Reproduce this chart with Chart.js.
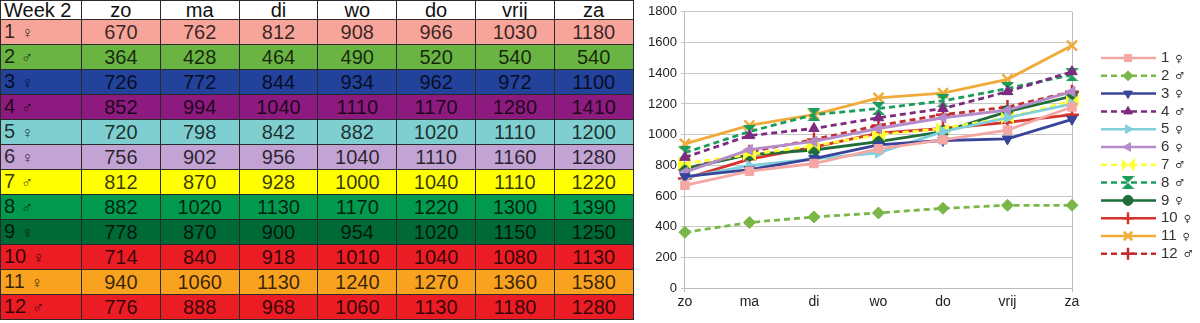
<!DOCTYPE html>
<html>
<head>
<meta charset="utf-8">
<script src="https://cdn.jsdelivr.net/npm/chart.js@4/dist/chart.umd.min.js"></script>
<style>
  body { margin: 0; background: #fff; font-family: "Liberation Sans", Arial, sans-serif; }
  #tbl { position: absolute; left: 0; top: 0; border-collapse: collapse; table-layout: fixed; width: 633px; }
  #tbl tr { height: 25px; }
  #tbl tr.head { height: 19px; }
  #tbl td { border: 1px solid #2a2a2a; padding: 0; font-size: 20px; line-height: 20px;
            text-align: center; color: rgba(0,0,0,0.78); overflow: hidden; white-space: nowrap; }
  #tbl td.name { text-align: left; padding-left: 3px; }
  #tbl tr.head td { line-height: 17px; color: #111; background: #fff; }
  #tbl .sym { font-size: 16px; margin-left: 6px; }
  #box { position: absolute; left: 640px; top: 0; width: 560px; height: 323px; }
</style>
</head>
<body>
<table id="tbl"></table>
<div id="box"><canvas id="myChart" width="560" height="323"></canvas></div>
<script>
/* データ */
const days = ["zo", "ma", "di", "wo", "do", "vrij", "za"];
const names = ["1", "2", "3", "4", "5", "6", "7", "8", "9", "10", "11", "12"];
const sexes = ["♀", "♂", "♀", "♂", "♀", "♀", "♂", "♂", "♀", "♀", "♀", "♂"];
const s1 = [670, 762, 812, 908, 966, 1030, 1180];
const s2 = [364, 428, 464, 490, 520, 540, 540];
const s3 = [726, 772, 844, 934, 962, 972, 1100];
const s4 = [852, 994, 1040, 1110, 1170, 1280, 1410];
const s5 = [720, 798, 842, 882, 1020, 1110, 1200];
const s6 = [756, 902, 956, 1040, 1110, 1160, 1280];
const s7 = [812, 870, 928, 1000, 1040, 1110, 1220];
const s8 = [882, 1020, 1130, 1170, 1220, 1300, 1390];
const s9 = [778, 870, 900, 954, 1020, 1150, 1250];
const s10 = [714, 840, 918, 1010, 1040, 1080, 1130];
const s11 = [940, 1060, 1130, 1240, 1270, 1360, 1580];
const s12 = [776, 888, 968, 1060, 1130, 1180, 1280];
const series = [s1, s2, s3, s4, s5, s6, s7, s8, s9, s10, s11, s12];
const yTicks = [0, 200, 400, 600, 800, 1000, 1200, 1400, 1600, 1800];

/* 表の色 */
const rowColors = ["#f7a59b", "#6ab443", "#22429b", "#8d1b7f", "#80cfd0", "#c3a3d3",
                   "#ffff00", "#00994e", "#006a36", "#ec1c24", "#f8a21f", "#ec1c24"];
/* 線の色 */
const lineColors = ["#f4a7a3", "#7ab648", "#38449a", "#7e2a80", "#80d0dc", "#b58cc9",
                    "#ffff33", "#1a9c5c", "#1d6c3a", "#d5332b", "#f0ab3a", "#c22c2c"];
const dashed = [false, true, false, true, false, false, true, true, false, false, false, true];

/* 表を作る */
let tbl = document.getElementById('tbl');
let html = '<colgroup><col style="width:81px">';
days.forEach(() => { html += '<col style="width:78.8px">'; });
html += '</colgroup><tr class="head"><td class="name">Week 2</td>';
days.forEach(d => { html += '<td>' + d + '</td>'; });
html += '</tr>';
series.forEach((s, i) => {
  html += '<tr style="background:' + rowColors[i] + '"><td class="name">' + names[i] +
          '<span class="sym">' + sexes[i] + '</span></td>';
  s.forEach(v => { html += '<td>' + v + '</td>'; });
  html += '</tr>';
});
tbl.innerHTML = html;

/* 特殊なマーカー */
function makeMarker(color, kind) {
  let c = document.createElement('canvas');
  c.width = 13; c.height = 13;
  let g = c.getContext('2d');
  g.fillStyle = color;
  g.beginPath();
  if (kind === 'bowtie') {
    g.moveTo(0, 0); g.lineTo(6.5, 6.5); g.lineTo(0, 13); g.closePath();
    g.moveTo(13, 0); g.lineTo(6.5, 6.5); g.lineTo(13, 13); g.closePath();
  } else {
    g.moveTo(0, 0); g.lineTo(13, 0); g.lineTo(6.5, 6.5); g.closePath();
    g.moveTo(0, 13); g.lineTo(13, 13); g.lineTo(6.5, 6.5); g.closePath();
  }
  g.fill();
  return c;
}

const pStyles = ['rect', 'rectRot', 'triangle', 'triangle', 'triangle', 'triangle',
                 makeMarker(lineColors[6], 'bowtie'), makeMarker(lineColors[7], 'hourglass'),
                 'circle', 'cross', 'crossRot', 'cross'];
const pRot = [0, 0, 180, 0, 90, 270, 0, 0, 0, 0, 0, 0];
const pRad = [6, 6, 6, 6, 6, 6, 6, 6, 6, 7, 7, 7];

let datasets = series.map((s, i) => ({
  label: names[i] + ' ' + sexes[i],
  data: s,
  borderColor: lineColors[i],
  backgroundColor: lineColors[i],
  borderWidth: 2.8,
  borderDash: dashed[i] ? [6, 4] : [],
  pointStyle: pStyles[i],
  pointRotation: pRot[i],
  pointRadius: pRad[i],
  pointBorderWidth: (pStyles[i] === 'cross' || pStyles[i] === 'crossRot') ? 2.5 : 1,
  tension: 0
}));

/* 凡例（線＋マーカー） */
const lineLegend = {
  id: 'lineLegend',
  afterDraw(chart) {
    let c = chart.ctx;
    chart.data.datasets.forEach((ds, i) => {
      let y = 58 + i * 17.8;
      c.save();
      c.strokeStyle = ds.borderColor;
      c.lineWidth = 2.5;
      c.setLineDash(ds.borderDash);
      c.beginPath(); c.moveTo(461, y); c.lineTo(516, y); c.stroke();
      c.setLineDash([]);
      c.fillStyle = ds.backgroundColor;
      c.lineWidth = ds.pointBorderWidth;
      Chart.helpers.drawPoint(c, { pointStyle: ds.pointStyle, rotation: ds.pointRotation,
        radius: ds.pointRadius - 1, borderWidth: ds.pointBorderWidth }, 488, y);
      c.fillStyle = '#333';
      c.textBaseline = 'middle';
      c.font = '15px "Liberation Sans", Arial, sans-serif';
      c.fillText(names[i], 521, y);
      let w = c.measureText(names[i]).width;
      c.font = '10px "DejaVu Sans", sans-serif';
      c.fillText(sexes[i], 521 + w + 6, y + 1);
      c.restore();
    });
  }
};

let ctx = document.getElementById('myChart').getContext('2d');
let myChart = new Chart(ctx, {
  type: 'line',
  data: { labels: days, datasets: datasets },
  plugins: [lineLegend],
  options: {
    responsive: false,
    animation: false,
    layout: { padding: { left: 4, right: 128, top: 3, bottom: 10 } },
    plugins: { legend: { display: false }, tooltip: { enabled: false } },
    scales: {
      x: {
        offset: false,
        grid: {
          color: c => (c.index === 0 || c.index === days.length - 1) ? '#bdbdbd' : 'rgba(0,0,0,0)',
          tickLength: 4
        },
        border: { color: '#bdbdbd' },
        ticks: { color: '#222', font: { size: 14, family: '"Liberation Sans", Arial' }, padding: 2 }
      },
      y: {
        min: 0, max: 1800,
        afterBuildTicks: axis => { axis.ticks = yTicks.map(v => ({ value: v })); },
        grid: { color: '#c8c8c8', tickLength: 4 },
        border: { color: '#bdbdbd' },
        ticks: { color: '#222', font: { size: 13, family: '"Liberation Sans", Arial' }, padding: 4,
                 callback: v => String(v) }
      }
    }
  }
});
</script>
</body>
</html>
